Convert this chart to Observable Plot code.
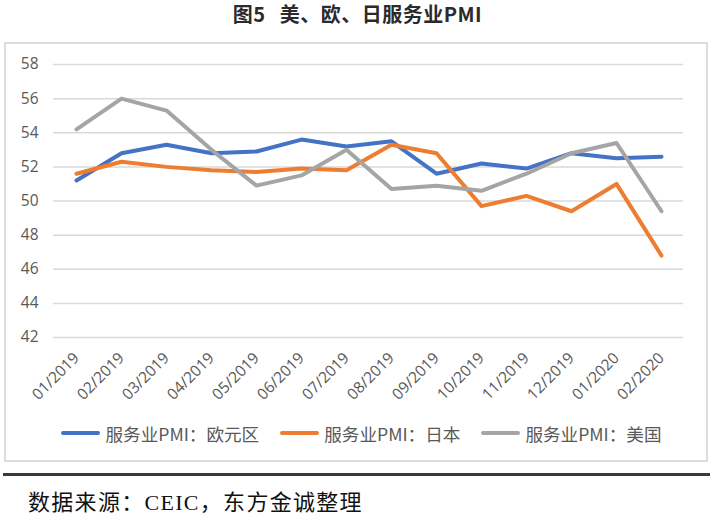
<!DOCTYPE html>
<html><head><meta charset="utf-8">
<script src="https://cdn.jsdelivr.net/npm/d3@7"></script>
<script src="https://cdn.jsdelivr.net/npm/@observablehq/plot@0.6"></script>
<style>
body{margin:0;background:#fff;}
#wrap{position:relative;width:715px;height:520px;overflow:hidden;font-family:"Noto Sans CJK SC","Noto Sans",sans-serif;background:#fff;}
#title{position:absolute;top:0;left:0;width:715px;text-align:center;font-size:20px;font-weight:bold;color:#2b2b2b;line-height:28px;letter-spacing:0.5px;}
#title .gap{display:inline-block;width:14px;}
#box{position:absolute;left:4px;top:42px;width:700px;height:416px;border:2px solid #dcdcdc;}
#chart{position:absolute;left:0;top:42px;}
#legend{position:absolute;left:4px;top:421px;width:715px;height:24px;display:flex;justify-content:center;align-items:center;gap:21px;font-size:17.6px;color:#595959;}
.item{display:flex;align-items:center;}
.sw{width:39px;height:4px;border-radius:2px;margin-right:5px;}
#rule{position:absolute;left:3px;top:473px;width:707px;height:3px;background:#3a3a3a;}
#caption{position:absolute;left:28px;top:488px;font-family:"Liberation Serif","Noto Sans CJK SC",serif;font-size:22px;letter-spacing:1.3px;color:#111;line-height:30px;}
</style>
</head><body>
<div id="wrap">
<div id="title">图5<span class="gap"></span>美、欧、日服务业PMI</div>
<div id="box"></div>
<div id="chart"></div>
<div id="legend"></div>
<div id="rule"></div>
<div id="caption">数据来源：CEIC，东方金诚整理</div>
</div>
<script>
const months = ["01/2019","02/2019","03/2019","04/2019","05/2019","06/2019","07/2019","08/2019","09/2019","10/2019","11/2019","12/2019","01/2020","02/2020"];
const euro  = [51.2,52.8,53.3,52.8,52.9,53.6,53.2,53.5,51.6,52.2,51.9,52.8,52.5,52.6];
const japan = [51.6,52.3,52.0,51.8,51.7,51.9,51.8,53.3,52.8,49.7,50.3,49.4,51.0,46.8];
const us    = [54.2,56.0,55.3,53.0,50.9,51.5,53.0,50.7,50.9,50.6,51.6,52.8,53.4,49.4];
const seriesNames = ["服务业PMI：欧元区","服务业PMI：日本","服务业PMI：美国"];
const colors = ["#4472C4","#ED7D31","#A5A5A5"];
const yTicks = [42,44,46,48,50,52,54,56,58];

const seriesValues = [euro, japan, us];
const data = [];
seriesNames.forEach((s, i) => {
  seriesValues[i].forEach((v, j) => data.push({month: months[j], value: v, series: s}));
});

const chart = Plot.plot({
  width: 715, height: 370,
  marginTop: 22, marginBottom: 75, marginLeft: 53, marginRight: 32,
  style: {background: "transparent", fontFamily: "'Open Sans','Noto Sans',sans-serif", color: "#595959"},
  x: {type: "point", domain: months, padding: 0.5, label: null},
  y: {domain: [42, 58], label: null},
  color: {domain: seriesNames, range: colors},
  marks: [
    Plot.gridY(yTicks, {stroke: "#d9d9d9", strokeOpacity: 1, strokeWidth: 1.5}),
    Plot.axisY(yTicks, {tickSize: 0, tickPadding: 15, fontSize: 15.5, fill: "#595959", label: null}),
    Plot.axisX(months, {tickSize: 0, tickRotate: -45, tickPadding: 18, fontSize: 15.5, fill: "#595959", label: null}),
    Plot.line(data, {x: "month", y: "value", z: "series", stroke: "series", strokeWidth: 4, strokeLinejoin: "round", strokeLinecap: "round"})
  ]
});
document.getElementById("chart").appendChild(chart);

const legend = document.getElementById("legend");
seriesNames.forEach((s, i) => {
  const it = document.createElement("div");
  it.className = "item";
  const sw = document.createElement("span");
  sw.className = "sw";
  sw.style.background = colors[i];
  const t = document.createElement("span");
  t.textContent = s;
  it.appendChild(sw); it.appendChild(t);
  legend.appendChild(it);
});
</script>
</body></html>
